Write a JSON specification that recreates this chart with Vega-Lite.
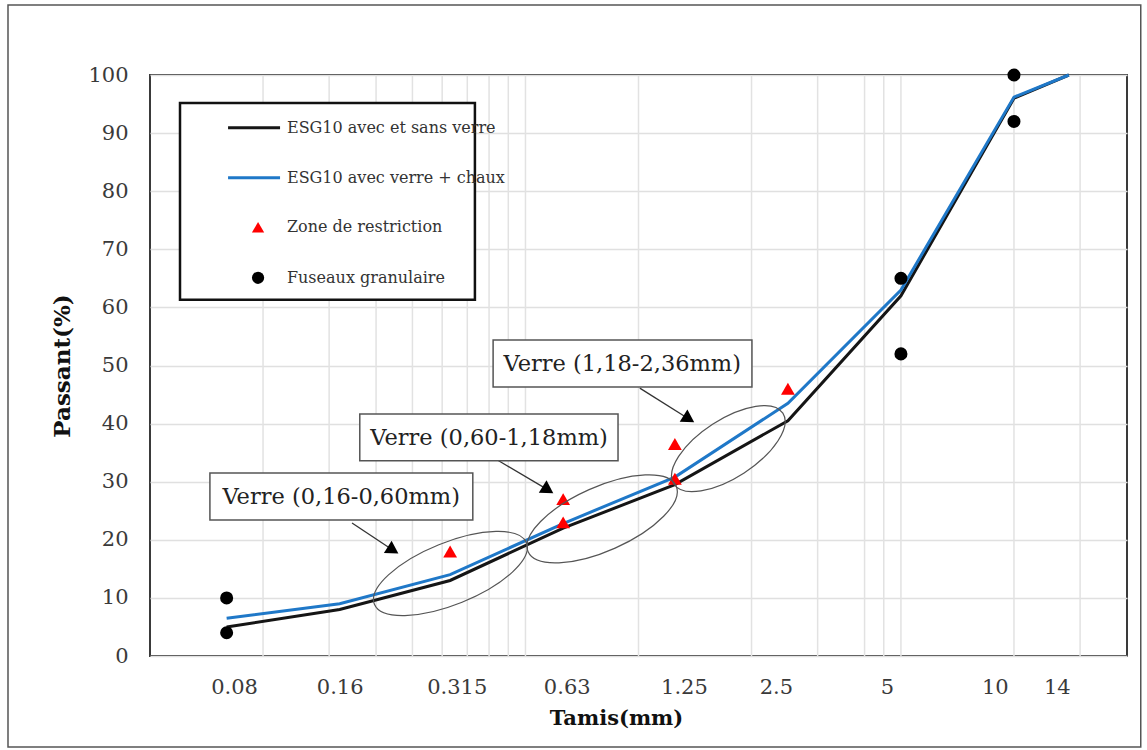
{
  "$schema": "https://vega.github.io/schema/vega-lite/v6.json",
  "width": 977,
  "height": 581,
  "autosize": "none",
  "padding": {"left": 150, "top": 75, "right": 20, "bottom": 94},
  "background": "white",
  "config": {
    "view": {"stroke": "#3a3a3a", "strokeWidth": 2},
    "font": "DejaVu Serif"
  },
  "datasets": {
    "series": [
      {"tamis": 0.08, "passant": 5, "serie": "ESG10 avec et sans verre"},
      {"tamis": 0.16, "passant": 8, "serie": "ESG10 avec et sans verre"},
      {"tamis": 0.315, "passant": 13, "serie": "ESG10 avec et sans verre"},
      {"tamis": 0.63, "passant": 22, "serie": "ESG10 avec et sans verre"},
      {"tamis": 1.25, "passant": 29.5, "serie": "ESG10 avec et sans verre"},
      {"tamis": 2.5, "passant": 40.5, "serie": "ESG10 avec et sans verre"},
      {"tamis": 5, "passant": 62, "serie": "ESG10 avec et sans verre"},
      {"tamis": 10, "passant": 96, "serie": "ESG10 avec et sans verre"},
      {"tamis": 14, "passant": 100, "serie": "ESG10 avec et sans verre"},
      {"tamis": 0.08, "passant": 6.5, "serie": "ESG10 avec verre + chaux"},
      {"tamis": 0.16, "passant": 9, "serie": "ESG10 avec verre + chaux"},
      {"tamis": 0.315, "passant": 14, "serie": "ESG10 avec verre + chaux"},
      {"tamis": 0.63, "passant": 22.8, "serie": "ESG10 avec verre + chaux"},
      {"tamis": 1.25, "passant": 30.8, "serie": "ESG10 avec verre + chaux"},
      {"tamis": 2.5, "passant": 43.5, "serie": "ESG10 avec verre + chaux"},
      {"tamis": 5, "passant": 63, "serie": "ESG10 avec verre + chaux"},
      {"tamis": 10, "passant": 96.2, "serie": "ESG10 avec verre + chaux"},
      {"tamis": 14, "passant": 100, "serie": "ESG10 avec verre + chaux"}
    ],
    "restriction": [
      {"tamis": 0.315, "passant": 18},
      {"tamis": 0.63, "passant": 23},
      {"tamis": 0.63, "passant": 27},
      {"tamis": 1.25, "passant": 30.5},
      {"tamis": 1.25, "passant": 36.5},
      {"tamis": 2.5, "passant": 46}
    ],
    "fuseau": [
      {"tamis": 0.08, "passant": 10},
      {"tamis": 0.08, "passant": 4},
      {"tamis": 5, "passant": 65},
      {"tamis": 5, "passant": 52},
      {"tamis": 10, "passant": 100},
      {"tamis": 10, "passant": 92}
    ],
    "grid": [
      {"g": 0.1}, {"g": 0.15}, {"g": 0.2}, {"g": 0.25}, {"g": 0.3}, {"g": 0.35}, {"g": 0.4}, {"g": 0.45}, {"g": 0.5}, {"g": 1}, {"g": 2}, {"g": 3}, {"g": 4}, {"g": 4.5}, {"g": 5}, {"g": 10}, {"g": 15}
    ],
    "frame": [{"x1": 0.02093, "x2": 21.76, "y1": -15.66, "y2": 112.05}],
    "boxes": [
      {"label": "Verre (0,16-0,60mm)", "x1": 0.0722, "x2": 0.362, "y1": 23.4, "y2": 31.5, "xc": 0.1615, "yc": 27.4},
      {"label": "Verre (0,60-1,18mm)", "x1": 0.181, "x2": 0.882, "y1": 33.6, "y2": 41.65, "xc": 0.40, "yc": 37.6},
      {"label": "Verre (1,18-2,36mm)", "x1": 0.410, "x2": 2.005, "y1": 46.3, "y2": 54.4, "xc": 0.905, "yc": 50.3}
    ],
    "arrows": [
      {"x1": 0.1726, "y1": 22.9, "x2": 0.222, "y2": 18.2},
      {"x1": 0.422, "y1": 33.7, "x2": 0.574, "y2": 28.6},
      {"x1": 1.008, "y1": 46.1, "x2": 1.362, "y2": 40.8}
    ],
    "ell1": [{"tamis": 0.3156, "passant": 14.2}],
    "ell2": [{"tamis": 0.80, "passant": 23.6}],
    "ell3": [{"tamis": 1.735, "passant": 35.7}],
    "legendbox": [{"x1": 0.0601, "x2": 0.3667, "y1": 61.3, "y2": 95.2}],
    "legendlines": [
      {"x1": 0.0807, "x2": 0.111, "y": 90.9, "serie": "ESG10 avec et sans verre"},
      {"x1": 0.0807, "x2": 0.111, "y": 82.3, "serie": "ESG10 avec verre + chaux"}
    ],
    "legendtext": [
      {"x": 0.1158, "y": 90.9, "t": "ESG10 avec et sans verre"},
      {"x": 0.1158, "y": 82.3, "t": "ESG10 avec verre + chaux"},
      {"x": 0.1158, "y": 73.8, "t": "Zone de restriction"},
      {"x": 0.1158, "y": 65.1, "t": "Fuseaux granulaire"}
    ],
    "legendtri": [{"x": 0.097, "y": 73.8}],
    "legenddot": [{"x": 0.097, "y": 65.1}]
  },
  "layer": [
    {
      "data": {"name": "grid"},
      "mark": {"type": "rule", "color": "#e2e2e2", "strokeWidth": 1.5},
      "encoding": {
        "x": {
          "field": "g", "type": "quantitative",
          "scale": {"type": "log", "domain": [0.05, 20], "nice": false},
          "axis": {
            "values": [0.0837, 0.16, 0.328, 0.644, 1.321, 2.322, 4.585, 8.89, 13.0],
            "labelExpr": "datum.value < 0.1 ? '0.08' : datum.value < 0.2 ? '0.16' : datum.value < 0.4 ? '0.315' : datum.value < 0.8 ? '0.63' : datum.value < 1.8 ? '1.25' : datum.value < 3.5 ? '2.5' : datum.value < 6 ? '5' : datum.value < 11 ? '10' : '14'",
            "title": "Tamis(mm)",
            "titleFont": "DejaVu Serif", "titleFontSize": 21, "titleFontWeight": "bold", "titleColor": "#111",
            "titleX": 466, "titleY": 62, "titleBaseline": "middle",
            "labelFont": "DejaVu Serif", "labelFontSize": 21, "labelColor": "#3a3a3a",
            "labelPadding": 20, "ticks": false, "tickSize": 0, "domain": false, "grid": false
          }
        }
      }
    },
    {
      "data": {"name": "frame"},
      "mark": {"type": "rect", "fill": null, "stroke": "#555555", "strokeWidth": 1.5, "clip": false},
      "encoding": {
        "x": {"field": "x1", "type": "quantitative"},
        "x2": {"field": "x2"},
        "y": {"field": "y1", "type": "quantitative"},
        "y2": {"field": "y2"}
      }
    },
    {
      "data": {"name": "series"},
      "mark": {"type": "line", "strokeWidth": 3},
      "encoding": {
        "x": {"field": "tamis", "type": "quantitative"},
        "y": {
          "field": "passant", "type": "quantitative",
          "scale": {"domain": [0, 100], "nice": false},
          "axis": {
            "values": [0, 10, 20, 30, 40, 50, 60, 70, 80, 90, 100],
            "title": "Passant(%)",
            "titleFont": "DejaVu Serif", "titleFontSize": 23, "titleFontWeight": "bold", "titleColor": "#111",
            "titlePadding": 13,
            "labelFont": "DejaVu Serif", "labelFontSize": 21, "labelColor": "#3a3a3a",
            "labelPadding": 22, "ticks": false, "tickSize": 0, "domain": false,
            "grid": true, "gridColor": "#e0e0e0", "gridWidth": 1.5
          }
        },
        "color": {
          "field": "serie", "type": "nominal",
          "scale": {"domain": ["ESG10 avec et sans verre", "ESG10 avec verre + chaux"], "range": ["#151515", "#1f78c8"]},
          "legend": null
        },
        "order": {"field": "tamis"}
      }
    },
    {
      "data": {"name": "restriction"},
      "mark": {"type": "point", "shape": "triangle-up", "filled": true, "color": "#ff0000", "size": 190, "opacity": 1},
      "encoding": {
        "x": {"field": "tamis", "type": "quantitative"},
        "y": {"field": "passant", "type": "quantitative"}
      }
    },
    {
      "data": {"name": "fuseau"},
      "mark": {"type": "point", "shape": "circle", "filled": true, "color": "#000000", "size": 170, "opacity": 1},
      "encoding": {
        "x": {"field": "tamis", "type": "quantitative"},
        "y": {"field": "passant", "type": "quantitative"}
      }
    },
    {
      "data": {"name": "ell1"},
      "mark": {"type": "point", "shape": "M -1 0 A 1 0.378 0 1 0 1 0 A 1 0.378 0 1 0 -1 0 Z", "filled": false, "stroke": "#555555", "strokeWidth": 1.2, "size": 26896, "angle": 338, "opacity": 1},
      "encoding": {
        "x": {"field": "tamis", "type": "quantitative"},
        "y": {"field": "passant", "type": "quantitative"}
      }
    },
    {
      "data": {"name": "ell2"},
      "mark": {"type": "point", "shape": "M -1 0 A 1 0.395 0 1 0 1 0 A 1 0.395 0 1 0 -1 0 Z", "filled": false, "stroke": "#555555", "strokeWidth": 1.2, "size": 26244, "angle": 336, "opacity": 1},
      "encoding": {
        "x": {"field": "tamis", "type": "quantitative"},
        "y": {"field": "passant", "type": "quantitative"}
      }
    },
    {
      "data": {"name": "ell3"},
      "mark": {"type": "point", "shape": "M -1 0 A 1 0.446 0 1 0 1 0 A 1 0.446 0 1 0 -1 0 Z", "filled": false, "stroke": "#555555", "strokeWidth": 1.2, "size": 16900, "angle": 327, "opacity": 1},
      "encoding": {
        "x": {"field": "tamis", "type": "quantitative"},
        "y": {"field": "passant", "type": "quantitative"}
      }
    },
    {
      "data": {"name": "arrows"},
      "mark": {"type": "rule", "color": "#333333", "strokeWidth": 1.3},
      "encoding": {
        "x": {"field": "x1", "type": "quantitative"},
        "x2": {"field": "x2"},
        "y": {"field": "y1", "type": "quantitative"},
        "y2": {"field": "y2"}
      }
    },
    {
      "data": {"name": "arrows"},
      "mark": {"type": "point", "shape": "triangle-right", "filled": true, "color": "#000000", "size": 210, "angle": 32, "opacity": 1},
      "encoding": {
        "x": {"field": "x2", "type": "quantitative"},
        "y": {"field": "y2", "type": "quantitative"}
      }
    },
    {
      "data": {"name": "boxes"},
      "mark": {"type": "rect", "fill": "white", "stroke": "#555555", "strokeWidth": 1.5},
      "encoding": {
        "x": {"field": "x1", "type": "quantitative"},
        "x2": {"field": "x2"},
        "y": {"field": "y1", "type": "quantitative"},
        "y2": {"field": "y2"}
      }
    },
    {
      "data": {"name": "boxes"},
      "mark": {"type": "text", "font": "DejaVu Serif", "fontSize": 22.5, "color": "#222222", "align": "center", "baseline": "middle"},
      "encoding": {
        "x": {"field": "xc", "type": "quantitative"},
        "y": {"field": "yc", "type": "quantitative"},
        "text": {"field": "label"}
      }
    },
    {
      "data": {"name": "legendbox"},
      "mark": {"type": "rect", "fill": "white", "stroke": "#111111", "strokeWidth": 2.5},
      "encoding": {
        "x": {"field": "x1", "type": "quantitative"},
        "x2": {"field": "x2"},
        "y": {"field": "y1", "type": "quantitative"},
        "y2": {"field": "y2"}
      }
    },
    {
      "data": {"name": "legendlines"},
      "mark": {"type": "rule", "strokeWidth": 3},
      "encoding": {
        "x": {"field": "x1", "type": "quantitative"},
        "x2": {"field": "x2"},
        "y": {"field": "y", "type": "quantitative"},
        "color": {"field": "serie", "type": "nominal", "legend": null}
      }
    },
    {
      "data": {"name": "legendtri"},
      "mark": {"type": "point", "shape": "triangle-up", "filled": true, "color": "#ff0000", "size": 150, "opacity": 1},
      "encoding": {
        "x": {"field": "x", "type": "quantitative"},
        "y": {"field": "y", "type": "quantitative"}
      }
    },
    {
      "data": {"name": "legenddot"},
      "mark": {"type": "point", "shape": "circle", "filled": true, "color": "#000000", "size": 150, "opacity": 1},
      "encoding": {
        "x": {"field": "x", "type": "quantitative"},
        "y": {"field": "y", "type": "quantitative"}
      }
    },
    {
      "data": {"name": "legendtext"},
      "mark": {"type": "text", "font": "DejaVu Serif", "fontSize": 16, "color": "#333333", "align": "left", "baseline": "middle"},
      "encoding": {
        "x": {"field": "x", "type": "quantitative"},
        "y": {"field": "y", "type": "quantitative"},
        "text": {"field": "t"}
      }
    }
  ]
}
